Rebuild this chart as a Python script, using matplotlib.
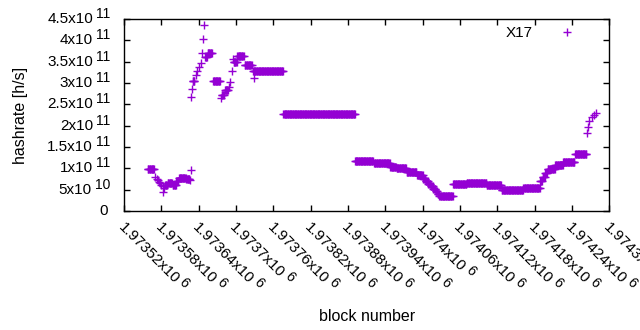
import matplotlib
matplotlib.use('Agg')
import matplotlib.pyplot as plt
import matplotlib.transforms as mtransforms
from matplotlib.font_manager import FontProperties
import numpy as np

plt.rcParams['font.family'] = ['Liberation Sans', 'DejaVu Sans']

# runs of consecutive blocks sharing the same hashrate estimate
run_start = [1973558, 1973570, 1973572, 1973574, 1973576, 1973578, 1973580, 1973582,
             1973583, 1973584, 1973586, 1973590, 1973598, 1973604, 1973608, 1973620,
             1973626, 1973627,
             1973627, 1973629, 1973630, 1973635, 1973637, 1973641, 1973643, 1973645,
             1973646, 1973648, 1973650, 1973654, 1973663, 1973675, 1973677, 1973682,
             1973689, 1973690, 1973693, 1973695, 1973696, 1973702, 1973714, 1973729,
             1973727, 1973776,
             1973891, 1973922, 1973948, 1973958, 1973974, 1973991, 1974001, 1974005,
             1974009, 1974013, 1974017, 1974021, 1974024, 1974027, 1974049, 1974071,
             1974087, 1974103, 1974127, 1974162, 1974189, 1974193, 1974197, 1974201,
             1974213, 1974226, 1974245, 1974264, 1974265, 1974268, 1974272, 1974275,
             1974279]
run_end = [1973568, 1973570, 1973572, 1973574, 1973576, 1973578, 1973580, 1973582,
           1973583, 1973584, 1973589, 1973597, 1973603, 1973607, 1973619, 1973625,
           1973626, 1973627,
           1973627, 1973629, 1973633, 1973635, 1973637, 1973641, 1973643, 1973645,
           1973646, 1973648, 1973653, 1973661, 1973674, 1973675, 1973680, 1973687,
           1973689, 1973690, 1973693, 1973695, 1973701, 1973712, 1973725, 1973729,
           1973775, 1973891,
           1973920, 1973947, 1973957, 1973973, 1973990, 1974000, 1974004, 1974008,
           1974012, 1974016, 1974020, 1974023, 1974026, 1974048, 1974070, 1974086,
           1974102, 1974126, 1974161, 1974188, 1974192, 1974196, 1974200, 1974212,
           1974225, 1974244, 1974263, 1974264, 1974265, 1974268, 1974272, 1974275,
           1974279]
run_value = [9.8e10, 8.0e10, 7.6e10, 7.2e10, 6.8e10, 6.5e10, 6.2e10, 5.8e10,
             4.4e10, 5.4e10, 6.0e10, 6.6e10, 6.1e10, 7.0e10, 7.8e10, 7.4e10,
             7.3e10, 9.6e10,
             2.665e11, 2.85e11, 3.05e11, 3.19e11, 3.29e11, 3.38e11, 3.48e11, 3.70e11,
             4.04e11, 4.36e11, 3.62e11, 3.70e11, 3.05e11, 2.64e11, 2.72e11, 2.84e11,
             2.90e11, 3.03e11, 3.27e11, 3.56e11, 3.50e11, 3.63e11, 3.42e11, 3.11e11,
             3.27e11, 2.27e11,
             1.165e11, 1.12e11, 1.04e11, 1.0e11, 9.2e10, 8.4e10, 7.6e10, 7.0e10,
             6.4e10, 5.8e10, 5.2e10, 4.6e10, 4.1e10, 3.6e10, 6.3e10, 6.6e10,
             6.5e10, 6.1e10, 4.9e10, 5.3e10, 7.0e10, 8.0e10, 9.0e10, 9.8e10,
             1.08e11, 1.155e11, 1.34e11, 1.82e11, 1.98e11, 2.12e11, 2.2e11, 2.25e11,
             2.29e11]

xticks = [1973520, 1973580, 1973640, 1973700, 1973760, 1973820, 1973880,
          1973940, 1974000, 1974060, 1974120, 1974180, 1974240, 1974300]
xtick_main = ['1.97352x10', '1.97358x10', '1.97364x10', '1.9737x10', '1.97376x10',
              '1.97382x10', '1.97388x10', '1.97394x10', '1.974x10', '1.97406x10',
              '1.97412x10', '1.97418x10', '1.97424x10', '1.9743x10']
xtick_sup = '6'
yticks = [0, 5e10, 1e11, 1.5e11, 2e11, 2.5e11, 3e11, 3.5e11, 4e11, 4.5e11]
ytick_main = ['0', '5x10', '1x10', '1.5x10', '2x10', '2.5x10', '3x10', '3.5x10',
              '4x10', '4.5x10']
ytick_sup = ['', '10', '11', '11', '11', '11', '11', '11', '11', '11']

blocks = np.concatenate([np.arange(s, e + 1) for s, e in zip(run_start, run_end)])
rates = np.concatenate([np.full(e - s + 1, v) for s, e, v in zip(run_start, run_end, run_value)])

FS_MAIN = 11
FS_SUP = 10
color = '#9400d3'

fig = plt.figure(figsize=(6.4, 3.3), dpi=100)
ax = fig.add_axes([0.194, 0.3606, 0.758, 0.5818])

ax.plot(blocks, rates, '+', ms=5.8, mew=1.0, color=color, label='X17')

ax.set_xlim(xticks[0], xticks[-1])
ax.set_ylim(0, 4.5e11)
ax.set_xticks(xticks)
ax.set_yticks(yticks)
ax.set_xticklabels([])
ax.set_yticklabels([])
ax.tick_params(direction='in', top=True, right=True, length=4, width=1)
for s in ax.spines.values():
    s.set_linewidth(1.0)

renderer = fig.canvas.get_renderer()
main_prop = FontProperties(family='Liberation Sans', size=FS_MAIN)
sup_prop = FontProperties(family='Liberation Sans', size=FS_SUP)


def text_width(s, prop):
    w, h, d = renderer.get_text_width_height_descent(s, prop, ismath=False)
    return w


def shifted(trans, dx, dy):
    return mtransforms.offset_copy(trans, fig=fig, x=dx, y=dy, units='dots')


# y tick labels, gnuplot style "1.5x10^11"
ytrans = ax.get_yaxis_transform()
for t, m, sp in zip(yticks, ytick_main, ytick_sup):
    if sp:
        sw = text_width(sp, sup_prop)
        ax.text(0, t, sp, transform=shifted(ytrans, -14, 5), ha='right', va='center',
                fontsize=FS_SUP)
        ax.text(0, t, m, transform=shifted(ytrans, -14 - sw - 3, 0), ha='right',
                va='center', fontsize=FS_MAIN)
    else:
        ax.text(0, t, m, transform=shifted(ytrans, -16, 0), ha='right', va='center',
                fontsize=FS_MAIN)

# x tick labels rotated -45 degrees
xtrans = ax.get_xaxis_transform()
c = np.cos(np.radians(45))
ox, oy = 1, -9
for t, m in zip(xticks, xtick_main):
    w = text_width(m, main_prop) + 3
    ax.text(t, 0, m, transform=shifted(xtrans, ox, oy), rotation=-45, ha='left',
            va='top', rotation_mode='anchor', fontsize=FS_MAIN)
    raise_px = 4
    ax.text(t, 0, xtick_sup, transform=shifted(xtrans, ox + w * c + raise_px * c,
                                                oy - w * c + raise_px * c),
            rotation=-45, ha='left', va='top', rotation_mode='anchor', fontsize=FS_SUP)

ax.set_ylabel('hashrate [h/s]', fontsize=11.5)
ax.set_xlabel('block number', fontsize=11.5)
ax.yaxis.set_label_coords(-0.199, 0.5)
ax.xaxis.set_label_coords(0.5, -0.509)

ax.legend(loc='upper right', frameon=False, markerfirst=False, fontsize=FS_MAIN,
          bbox_to_anchor=(0.929, 0.962), borderaxespad=0, borderpad=0,
          handlelength=1.0, handletextpad=1.79)

fig.savefig('out.png', dpi=100)
